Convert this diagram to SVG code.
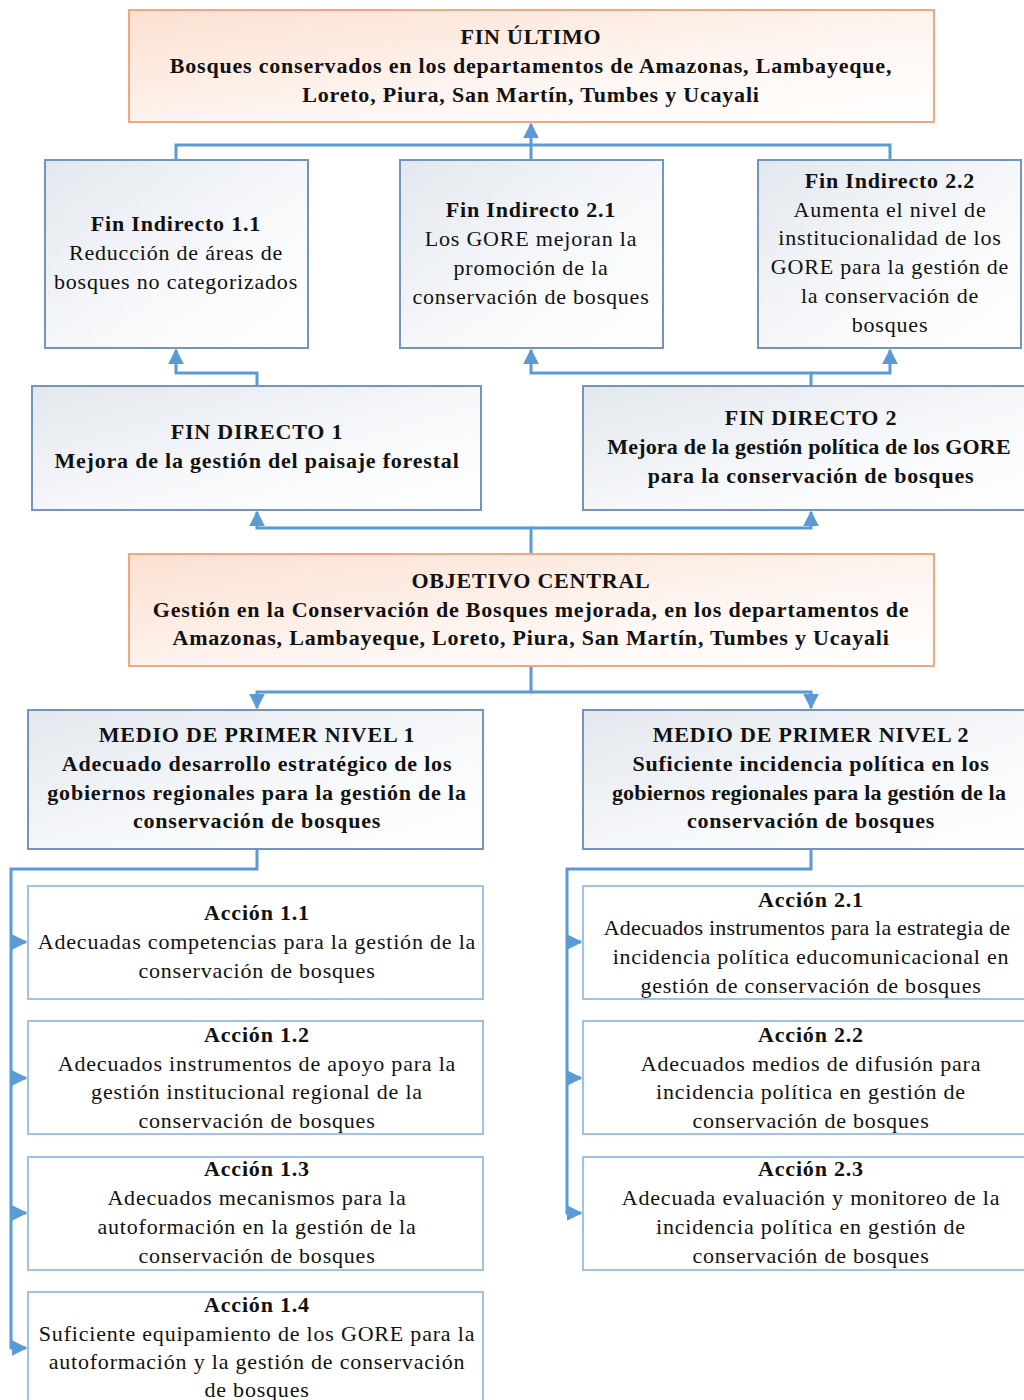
<svg xmlns="http://www.w3.org/2000/svg" width="1024" height="1400" viewBox="0 0 1024 1400">
<defs>
<linearGradient id="gBlue" x1="0" y1="0" x2="1" y2="1">
<stop offset="0" stop-color="#e3e8ee"/>
<stop offset="0.6" stop-color="#f8f9fb"/>
<stop offset="1" stop-color="#ffffff"/>
</linearGradient>
<linearGradient id="gPeach" x1="0" y1="0" x2="1" y2="1">
<stop offset="0" stop-color="#fbe0d0"/>
<stop offset="0.6" stop-color="#fef6f2"/>
<stop offset="1" stop-color="#ffffff"/>
</linearGradient>
<marker id="arr" viewBox="0 0 10 10" refX="9" refY="5" markerWidth="16" markerHeight="16" markerUnits="userSpaceOnUse" orient="auto">
<path d="M0,0 L10,5 L0,10 z" fill="#5b9bd5"/>
</marker>
<style>
.peach{fill:url(#gPeach);stroke:#f0a77e;stroke-width:2}
.blue{fill:url(#gBlue);stroke:#7494bb;stroke-width:2}
.act{fill:#ffffff;stroke:#9ec3e6;stroke-width:2}
.con{fill:none;stroke:#5b9bd5;stroke-width:3}
text{font-family:"Liberation Serif","Tinos","Times New Roman",serif;font-size:22px;letter-spacing:0.8px;fill:#111;text-anchor:middle}
.b{font-weight:bold}
.tight{letter-spacing:0.2px}
</style>
</defs>

<g id="connectors">
<path class="con" d="M176,160 V145 H890 V160"/>
<path class="con" d="M531,160 V124" marker-end="url(#arr)"/>
<path class="con" d="M257,386 V373 H176 V350" marker-end="url(#arr)"/>
<path class="con" d="M811,386 V373 H531 V350" marker-end="url(#arr)"/>
<path class="con" d="M811,373 H890 V350" marker-end="url(#arr)"/>
<path class="con" d="M531,554 V528 H257 V512" marker-end="url(#arr)"/>
<path class="con" d="M531,528 H811 V512" marker-end="url(#arr)"/>
<path class="con" d="M531,666 V692 H257 V708" marker-end="url(#arr)"/>
<path class="con" d="M531,692 H811 V708" marker-end="url(#arr)"/>
<path class="con" d="M257,849 V869 H11 V1348 H26" marker-end="url(#arr)"/>
<path class="con" d="M11,942 H26" marker-end="url(#arr)"/>
<path class="con" d="M11,1078 H26" marker-end="url(#arr)"/>
<path class="con" d="M11,1213 H26" marker-end="url(#arr)"/>
<path class="con" d="M811,849 V869 H567 V1213 H581" marker-end="url(#arr)"/>
<path class="con" d="M567,942 H581" marker-end="url(#arr)"/>
<path class="con" d="M567,1078 H581" marker-end="url(#arr)"/>
</g>

<g id="fin-ultimo">
<rect class="peach" x="129" y="10" width="805" height="112"/>
<text x="531" y="44" class="b">FIN ÚLTIMO</text>
<text x="531" y="73" class="b">Bosques conservados en los departamentos de Amazonas, Lambayeque,</text>
<text x="531" y="102" class="b">Loreto, Piura, San Martín, Tumbes y Ucayali</text>
</g>

<g id="fin-indirecto-1-1">
<rect class="blue" x="45" y="160" width="263" height="188"/>
<text x="176" y="231" class="b">Fin Indirecto 1.1</text>
<text x="176" y="260">Reducción de áreas de</text>
<text x="176" y="289">bosques no categorizados</text>
</g>

<g id="fin-indirecto-2-1">
<rect class="blue" x="400" y="160" width="263" height="188"/>
<text x="531" y="217" class="b">Fin Indirecto 2.1</text>
<text x="531" y="246">Los GORE mejoran la</text>
<text x="531" y="275">promoción de la</text>
<text x="531" y="304">conservación de bosques</text>
</g>

<g id="fin-indirecto-2-2">
<rect class="blue" x="758" y="160" width="263" height="188"/>
<text x="890" y="188" class="b">Fin Indirecto 2.2</text>
<text x="890" y="217">Aumenta el nivel de</text>
<text x="890" y="245">institucionalidad de los</text>
<text x="890" y="274">GORE para la gestión de</text>
<text x="890" y="303">la conservación  de</text>
<text x="890" y="332">bosques</text>
</g>

<g id="fin-directo-1">
<rect class="blue" x="32" y="386" width="449" height="124"/>
<text x="257" y="439" class="b">FIN DIRECTO 1</text>
<text x="257" y="468" class="b">Mejora de la gestión del paisaje forestal</text>
</g>

<g id="fin-directo-2">
<rect class="blue" x="583" y="386" width="460" height="124"/>
<text x="811" y="425" class="b">FIN DIRECTO 2</text>
<text x="809" y="454" class="b tight">Mejora de la gestión política de los GORE</text>
<text x="811" y="483" class="b">para la conservación de bosques</text>
</g>

<g id="objetivo-central">
<rect class="peach" x="129" y="554" width="805" height="112"/>
<text x="531" y="588" class="b">OBJETIVO CENTRAL</text>
<text x="531" y="617" class="b">Gestión en la Conservación de Bosques mejorada, en los departamentos de</text>
<text x="531" y="645" class="b">Amazonas, Lambayeque, Loreto, Piura, San Martín, Tumbes y Ucayali</text>
</g>

<g id="medio-1">
<rect class="blue" x="28" y="710" width="455" height="139"/>
<text x="257" y="742" class="b">MEDIO DE PRIMER NIVEL 1</text>
<text x="257" y="771" class="b">Adecuado desarrollo estratégico de los</text>
<text x="257" y="800" class="b">gobiernos regionales para la gestión de la</text>
<text x="257" y="828" class="b">conservación de bosques</text>
</g>

<g id="medio-2">
<rect class="blue" x="583" y="710" width="460" height="139"/>
<text x="811" y="742" class="b">MEDIO DE PRIMER NIVEL 2</text>
<text x="811" y="771" class="b">Suficiente incidencia política en los</text>
<text x="809" y="800" class="b tight">gobiernos regionales para la gestión de la</text>
<text x="811" y="828" class="b">conservación de bosques</text>
</g>

<g id="accion-1-1">
<rect class="act" x="28" y="886" width="455" height="113"/>
<text x="257" y="920" class="b">Acción 1.1</text>
<text x="257" y="949">Adecuadas competencias para la gestión de la</text>
<text x="257" y="978">conservación de bosques</text>
</g>

<g id="accion-1-2">
<rect class="act" x="28" y="1021" width="455" height="113"/>
<text x="257" y="1042" class="b">Acción 1.2</text>
<text x="257" y="1071">Adecuados instrumentos de apoyo para la</text>
<text x="257" y="1099">gestión institucional regional de la</text>
<text x="257" y="1128">conservación de bosques</text>
</g>

<g id="accion-1-3">
<rect class="act" x="28" y="1157" width="455" height="113"/>
<text x="257" y="1176" class="b">Acción 1.3</text>
<text x="257" y="1205">Adecuados mecanismos para la</text>
<text x="257" y="1234">autoformación en la gestión de la</text>
<text x="257" y="1263">conservación de bosques</text>
</g>

<g id="accion-1-4">
<rect class="act" x="28" y="1292" width="455" height="130"/>
<text x="257" y="1312" class="b">Acción 1.4</text>
<text x="257" y="1341">Suficiente equipamiento de los GORE para la</text>
<text x="257" y="1369">autoformación y la gestión de conservación</text>
<text x="257" y="1397">de bosques</text>
</g>

<g id="accion-2-1">
<rect class="act" x="583" y="886" width="460" height="113"/>
<text x="811" y="907" class="b">Acción 2.1</text>
<text x="807" y="935" class="tight">Adecuados instrumentos para la estrategia de</text>
<text x="811" y="964">incidencia política educomunicacional en</text>
<text x="811" y="993">gestión de conservación de bosques</text>
</g>

<g id="accion-2-2">
<rect class="act" x="583" y="1021" width="460" height="113"/>
<text x="811" y="1042" class="b">Acción 2.2</text>
<text x="811" y="1071">Adecuados medios de difusión para</text>
<text x="811" y="1099">incidencia política en gestión de</text>
<text x="811" y="1128">conservación de bosques</text>
</g>

<g id="accion-2-3">
<rect class="act" x="583" y="1157" width="460" height="113"/>
<text x="811" y="1176" class="b">Acción 2.3</text>
<text x="811" y="1205">Adecuada evaluación y monitoreo de la</text>
<text x="811" y="1234">incidencia política en gestión de</text>
<text x="811" y="1263">conservación de bosques</text>
</g>
</svg>
